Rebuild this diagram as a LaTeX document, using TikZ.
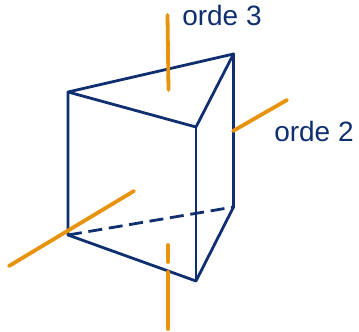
\documentclass[tikz,border=0pt]{standalone}
\usepackage{fontspec}
\setmainfont{Liberation Sans}
\definecolor{navy}{HTML}{0F2F70}
\definecolor{amber}{HTML}{E8930C}
\tikzset{
  edge/.style={draw=navy,line width=2.8*0.75pt,line join=round,line cap=round},
  hidden/.style={draw=navy,line width=2.8*0.75pt,dash pattern=on 10.5pt off 5pt},
  axis/.style={draw=amber,line width=3.8*0.75pt,line cap=round},
  lab/.style={text=navy,font=\fontsize{21pt}{25pt}\selectfont,inner sep=0pt,anchor=base west}
}
\begin{document}
\begin{tikzpicture}[x=0.75pt,y=-0.75pt]
\useasboundingbox (0,0) rectangle (359,331);
\coordinate (tl) at (68,92);
\coordinate (tb) at (233.5,54);
\coordinate (tf) at (196,127);
\coordinate (bl) at (68,235);
\coordinate (bb) at (233.5,207);
\coordinate (bf) at (196,281);
\coordinate (a3a) at (167.5,15);
\coordinate (a3b) at (168.5,90);
\coordinate (a2a) at (233,131);
\coordinate (a2b) at (287,100);
\coordinate (a1a) at (9,266);
\coordinate (a1b) at (134,191);
\coordinate (a4a) at (168,245);
\coordinate (a4b) at (168,262);
\coordinate (a4c) at (168,272);
\coordinate (a4d) at (168,329);
\draw[hidden] (bl) -- (bb);
\draw[edge] (tl) -- (tb) -- (tf) -- cycle;
\draw[edge] (tl) -- (bl) -- (bf) -- (bb) -- (tb);
\draw[edge] (tf) -- (bf);
\draw[axis] (a3a) -- (a3b);
\draw[axis] (a2a) -- (a2b);
\draw[axis] (a1a) -- (a1b);
\draw[axis] (a4a) -- (a4b);
\draw[axis] (a4c) -- (a4d);
\node[lab] (l3) at (182,26) {orde 3};
\node[lab] (l2) at (274,142) {orde 2};
\end{tikzpicture}
\end{document}
